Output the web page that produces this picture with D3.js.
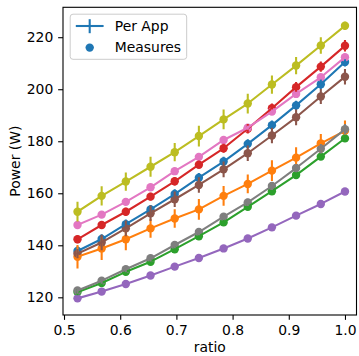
<!DOCTYPE html>
<html>
<head>
<meta charset="utf-8">
<script src="https://cdn.jsdelivr.net/npm/d3@7"></script>
<style>
  body { margin: 0; background: #fff; }
  text { font-family: 'DejaVu Sans', sans-serif; }
</style>
</head>
<body>
<div id="chart"></div>
<script>
// ratio values on the x axis
const ratio = [0.524, 0.567, 0.610, 0.654, 0.697, 0.740, 0.784, 0.827, 0.870, 0.913, 0.957, 1.0];

// mean power per app (W) and its error
const app0 = [137.8, 142.4, 148.1, 153.8, 159.7, 166.0, 172.2, 179.0, 186.2, 193.8, 201.9, 210.5];
const err0 = [1.8, 1.8, 1.8, 1.7, 1.8, 1.8, 1.8, 1.8, 1.8, 1.8, 1.8, 1.8];
const app1 = [135.6, 138.8, 142.3, 146.5, 150.3, 153.8, 159.0, 163.6, 168.7, 173.7, 179.2, 184.0];
const err1 = [4.5, 4.5, 4.2, 3.6, 3.6, 4.0, 3.8, 3.6, 4.0, 4.0, 3.6, 4.0];
const app2 = [122.0, 125.5, 129.8, 133.7, 138.5, 143.5, 148.8, 154.8, 160.8, 167.0, 174.1, 181.1];
const err2 = [1.2, 1.2, 1.2, 1.2, 1.2, 1.2, 1.2, 1.2, 1.2, 1.2, 1.3, 1.4];
const app3 = [142.3, 147.8, 152.9, 158.7, 164.6, 171.0, 177.3, 184.8, 192.7, 200.8, 208.7, 216.7];
const err3 = [1.5, 1.5, 1.5, 1.5, 1.6, 1.6, 1.7, 1.8, 1.8, 2.0, 2.0, 2.2];
const app4 = [119.6, 122.2, 125.1, 128.4, 131.8, 135.1, 138.8, 142.6, 146.9, 151.4, 155.9, 160.7];
const err4 = [0.5, 0.5, 0.5, 0.5, 0.5, 0.5, 0.5, 0.5, 0.5, 0.5, 0.5, 0.5];
const app5 = [136.8, 141.1, 146.5, 152.3, 157.7, 163.2, 169.2, 175.4, 182.2, 189.2, 197.2, 204.8];
const err5 = [1.8, 3.0, 3.0, 3.0, 3.0, 3.0, 3.0, 3.0, 3.0, 3.0, 2.9, 3.0];
const app6 = [147.8, 151.8, 156.7, 162.3, 168.5, 174.0, 180.5, 185.2, 191.4, 198.2, 204.6, 212.3];
const err6 = [0.8, 0.8, 0.8, 0.8, 0.8, 0.8, 0.8, 0.8, 0.8, 0.8, 0.8, 0.8];
const app7 = [122.6, 126.4, 130.8, 135.0, 140.1, 145.1, 151.0, 156.5, 162.8, 169.7, 177.1, 184.6];
const err7 = [1.2, 1.2, 1.2, 1.2, 1.2, 1.2, 1.3, 1.4, 1.5, 1.6, 1.8, 2.0];
const app8 = [152.9, 159.0, 164.5, 170.2, 175.8, 182.0, 188.4, 194.5, 201.8, 209.1, 216.8, 224.4];
const err8 = [3.8, 3.7, 3.5, 3.8, 3.5, 4.0, 3.8, 3.8, 3.5, 3.3, 3.2, 1.5];

const xTicks = [0.5, 0.6, 0.7, 0.8, 0.9, 1.0];
const yTicks = [120, 140, 160, 180, 200, 220];
const legendLabels = ['Per App', 'Measures'];

const colors = ['#1f77b4', '#ff7f0e', '#2ca02c', '#d62728', '#9467bd',
                '#8c564b', '#e377c2', '#7f7f7f', '#bcbd22'];
const apps = [app0, app1, app2, app3, app4, app5, app6, app7, app8];
const errs = [err0, err1, err2, err3, err4, err5, err6, err7, err8];
const series = apps.map((vals, i) => ({
  color: colors[i],
  points: vals.map((v, j) => ({ x: ratio[j], y: v, e: errs[i][j] }))
}));

const width = 359, height = 356;
const margin = { top: 7.3, right: 2.5, bottom: 41, left: 63 };
const fs = 13.9;
const lw = 2.08;

const svg = d3.select('#chart').append('svg')
  .attr('width', width)
  .attr('height', height);

const x = d3.scaleLinear()
  .domain([0.4982, 1.0205])
  .range([margin.left, width - margin.right]);
const y = d3.scaleLinear()
  .domain([113.2, 231.5])
  .range([height - margin.bottom, margin.top]);

const clip = svg.append('clipPath').attr('id', 'plotclip')
  .append('rect')
  .attr('x', margin.left).attr('y', margin.top)
  .attr('width', width - margin.left - margin.right)
  .attr('height', height - margin.top - margin.bottom);

const plot = svg.append('g').attr('clip-path', 'url(#plotclip)');

// scatter dots (matplotlib draws collections below lines)
series.forEach(s => {
  plot.append('g').selectAll('circle')
    .data(s.points)
    .enter().append('circle')
    .attr('cx', d => x(d.x))
    .attr('cy', d => y(d.y))
    .attr('r', 4.2)
    .attr('fill', s.color);
});

const line = d3.line().x(d => x(d.x)).y(d => y(d.y));
series.forEach(s => {
  const g = plot.append('g');
  g.selectAll('line')
    .data(s.points)
    .enter().append('line')
    .attr('x1', d => x(d.x)).attr('x2', d => x(d.x))
    .attr('y1', d => y(d.y - d.e)).attr('y2', d => y(d.y + d.e))
    .attr('stroke', s.color)
    .attr('stroke-width', lw);
  g.append('path')
    .datum(s.points)
    .attr('d', line)
    .attr('fill', 'none')
    .attr('stroke', s.color)
    .attr('stroke-width', lw)
    .attr('stroke-linejoin', 'round')
    .attr('stroke-linecap', 'square');
});

// axes
const xAxis = svg.append('g')
  .attr('transform', `translate(0,${height - margin.bottom})`)
  .call(d3.axisBottom(x).tickValues(xTicks).tickFormat(d3.format('.1f'))
    .tickSize(4.86).tickPadding(4.86).tickSizeOuter(0));
const yAxis = svg.append('g')
  .attr('transform', `translate(${margin.left},0)`)
  .call(d3.axisLeft(y).tickValues(yTicks).tickSize(4.86).tickPadding(4.86).tickSizeOuter(0));
[xAxis, yAxis].forEach(a => {
  a.select('.domain').remove();
  a.selectAll('line').attr('stroke', '#000').attr('stroke-width', 1.1);
  a.selectAll('text').attr('font-size', fs).attr('fill', '#000')
    .style('font-family', 'DejaVu Sans, sans-serif');
});

// frame
svg.append('rect')
  .attr('x', margin.left).attr('y', margin.top)
  .attr('width', width - margin.left - margin.right)
  .attr('height', height - margin.top - margin.bottom)
  .attr('fill', 'none').attr('stroke', '#000').attr('stroke-width', 1.1);

svg.append('text')
  .attr('x', (margin.left + width - margin.right) / 2)
  .attr('y', 352)
  .attr('text-anchor', 'middle')
  .attr('font-size', fs)
  .text('ratio');
svg.append('text')
  .attr('transform', `translate(20,${(margin.top + height - margin.bottom) / 2}) rotate(-90)`)
  .attr('text-anchor', 'middle')
  .attr('font-size', fs)
  .text('Power (W)');

// legend
const lg = svg.append('g');
const box = lg.append('rect')
  .attr('x', 70.2).attr('y', 14.2)
  .attr('rx', 2.8).attr('ry', 2.8)
  .attr('fill', 'rgba(255,255,255,0.8)')
  .attr('stroke', '#cccccc').attr('stroke-width', 1);
lg.append('line')
  .attr('x1', 75.8).attr('x2', 103.6).attr('y1', 26).attr('y2', 26)
  .attr('stroke', colors[0]).attr('stroke-width', lw);
lg.append('line')
  .attr('x1', 89.7).attr('x2', 89.7).attr('y1', 19.2).attr('y2', 33.2)
  .attr('stroke', colors[0]).attr('stroke-width', lw);
lg.append('circle')
  .attr('cx', 89.7).attr('cy', 47.6).attr('r', 4.2).attr('fill', colors[0]);
const labels = lg.selectAll('text.lab')
  .data(legendLabels)
  .enter().append('text')
  .attr('class', 'lab')
  .attr('x', 114.8)
  .attr('y', (d, i) => 30.9 + i * 20.8)
  .attr('font-size', fs)
  .text(d => d);
const maxW = d3.max(labels.nodes(), n => n.getComputedTextLength());
box.attr('width', 114.8 + maxW + 5.6 - 70.2).attr('height', 59.3 - 14.2);
</script>
</body>
</html>
